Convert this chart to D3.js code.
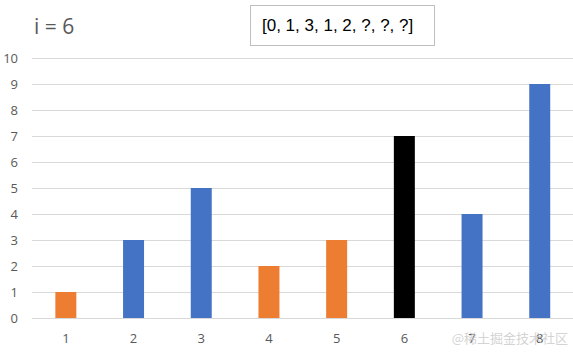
<!DOCTYPE html>
<html>
<head>
<meta charset="utf-8">
<script src="https://cdn.jsdelivr.net/npm/d3@7"></script>
<style>
  body { margin: 0; background: #fff; }
  svg { display: block; font-family: "Open Sans", "Noto Sans", sans-serif; }
</style>
</head>
<body>
<div id="chart"></div>
<script>
const categories = ['1', '2', '3', '4', '5', '6', '7', '8'];
const values = [1, 3, 5, 2, 3, 7, 4, 9];
const barColors = ['#ED7D31', '#4472C4', '#4472C4', '#ED7D31', '#ED7D31', '#000000', '#4472C4', '#4472C4'];
const yTicks = [0, 1, 2, 3, 4, 5, 6, 7, 8, 9, 10];
const title = 'i = 6';
const arrayText = '[0, 1, 3, 1, 2, ?, ?, ?]';

const width = 573, height = 353;
const margin = { top: 58, right: 0, bottom: 35, left: 32 };

const svg = d3.select('#chart').append('svg')
  .attr('width', width)
  .attr('height', height);

const x = d3.scaleBand()
  .domain(categories)
  .range([margin.left, 573.6])
  .paddingInner(0.69)
  .paddingOuter(0.345);

const y = d3.scaleLinear()
  .domain([0, 10])
  .range([height - margin.bottom, margin.top]);

// gridlines
svg.append('g')
  .selectAll('line')
  .data(yTicks)
  .enter()
  .append('line')
  .attr('x1', margin.left)
  .attr('x2', width)
  .attr('y1', d => y(d) + 0.5)
  .attr('y2', d => y(d) + 0.5)
  .attr('stroke', '#d9d9d9')
  .attr('stroke-width', 1);

// y labels
svg.append('g')
  .selectAll('text')
  .data(yTicks)
  .enter()
  .append('text')
  .attr('x', 18)
  .attr('y', d => y(d))
  .attr('dy', '0.35em')
  .attr('text-anchor', 'end')
  .style('font-size', '13px')
  .style('fill', '#595959')
  .text(d => d);

// bars
svg.append('g')
  .selectAll('rect')
  .data(values)
  .enter()
  .append('rect')
  .attr('x', (d, i) => x(categories[i]))
  .attr('width', x.bandwidth())
  .attr('y', d => y(d))
  .attr('height', d => y(0) - y(d))
  .attr('fill', (d, i) => barColors[i]);

// x labels
svg.append('g')
  .selectAll('text')
  .data(categories)
  .enter()
  .append('text')
  .attr('x', d => x(d) + x.bandwidth() / 2)
  .attr('y', 343)
  .attr('text-anchor', 'middle')
  .style('font-size', '13px')
  .style('fill', '#595959')
  .text(d => d);

// title
svg.append('text')
  .attr('x', 34)
  .attr('y', 34)
  .style('font-size', '21px')
  .style('fill', '#595959')
  .text(title);

// array text box
svg.append('rect')
  .attr('x', 250.5)
  .attr('y', 5.5)
  .attr('width', 184)
  .attr('height', 40)
  .attr('fill', '#fff')
  .attr('stroke', '#bfbfbf');

svg.append('text')
  .attr('x', 262)
  .attr('y', 31)
  .style('font-family', '"Liberation Sans", sans-serif')
  .style('font-size', '17px')
  .style('fill', '#000')
  .text(arrayText);

// watermark
svg.append('text')
  .attr('x', 568)
  .attr('y', 343)
  .attr('text-anchor', 'end')
  .style('font-family', '"Noto Sans CJK SC", sans-serif')
  .style('font-size', '13px')
  .style('fill', '#c8c8c8')
  .style('fill-opacity', 0.8)
  .text('@稀土掘金技术社区');
</script>
</body>
</html>
